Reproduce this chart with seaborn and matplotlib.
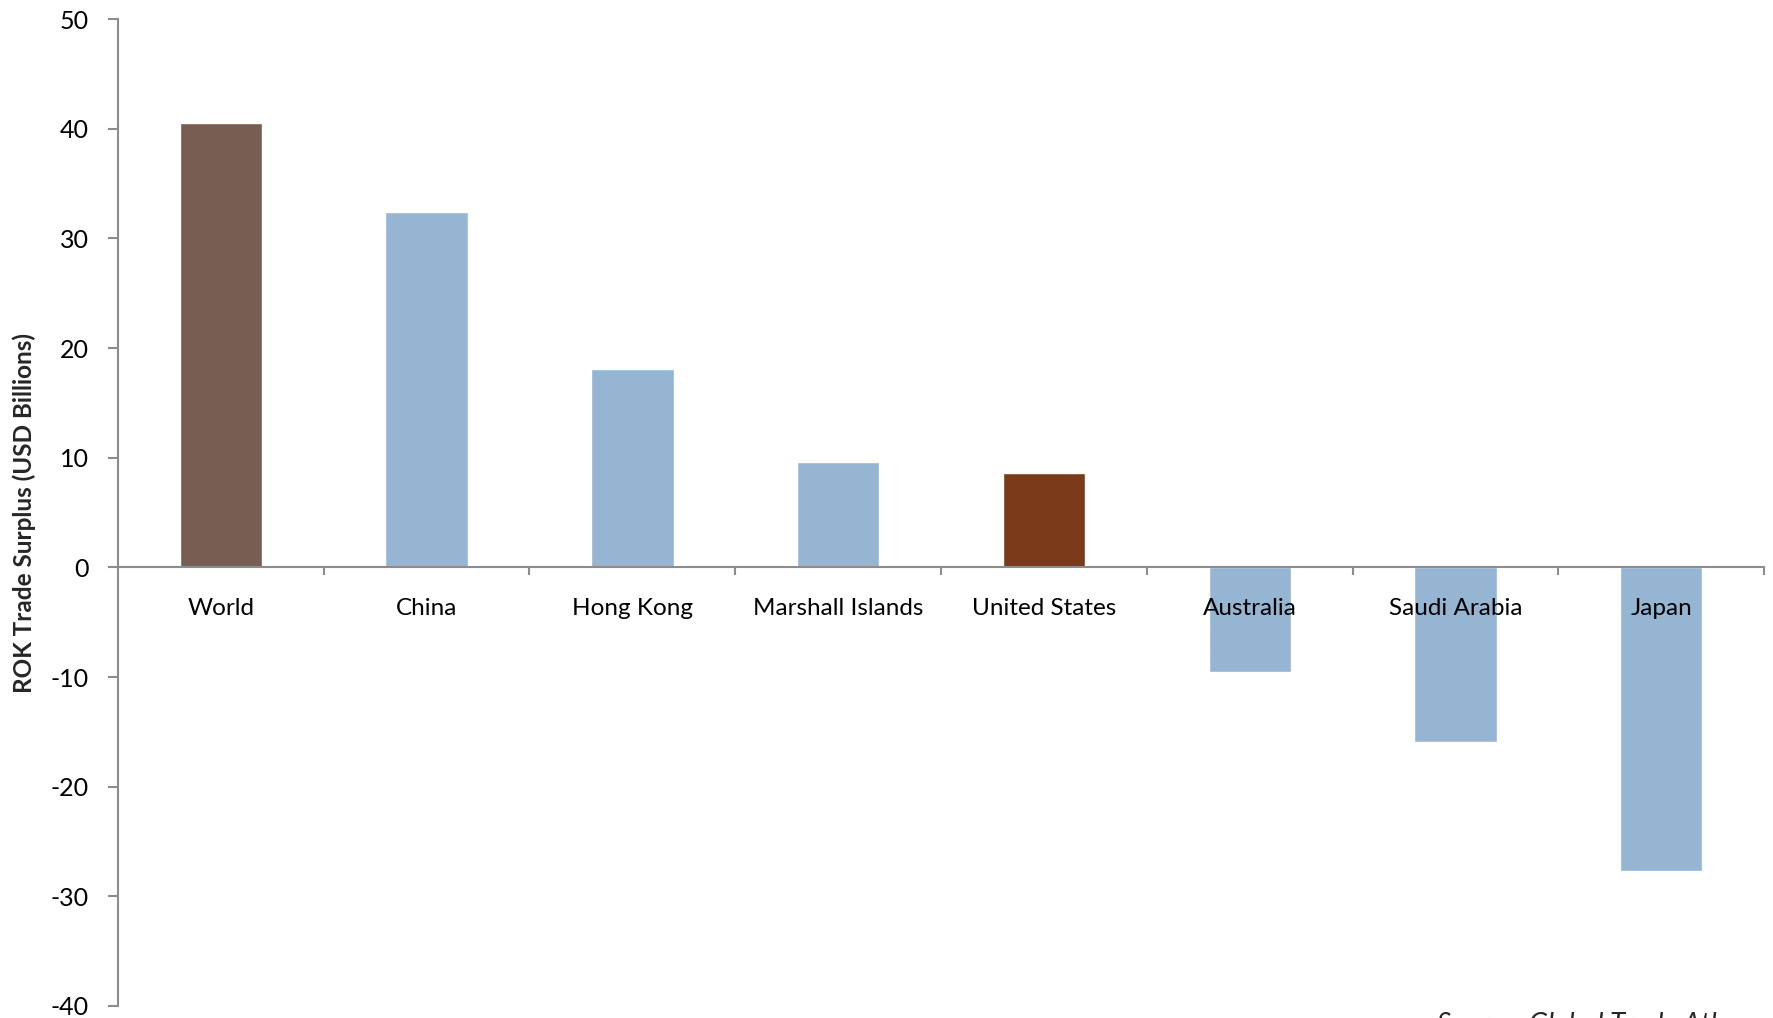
import numpy as np
import pandas as pd
import seaborn as sns
import matplotlib.pyplot as plt
from matplotlib.ticker import FixedLocator

countries = ['World', 'China', 'Hong Kong', 'Marshall Islands', 'United States',
             'Australia', 'Saudi Arabia', 'Japan']
surplus = [40.5, 32.4, 18.1, 9.6, 8.6, -9.5, -15.9, -27.7]
bar_colors = ['#785E52', '#95B5D3', '#95B5D3', '#95B5D3', '#7B3B1A',
              '#95B5D3', '#95B5D3', '#95B5D3']
y_ticks = [50, 40, 30, 20, 10, 0, -10, -20, -30, -40]

sns.set_theme(style='white')
plt.rcParams['font.family'] = ['Lato', 'DejaVu Sans']

df = pd.DataFrame({'country': countries, 'surplus': surplus})

fig = plt.figure(figsize=(17.74, 10.18), dpi=100)
ax = fig.add_axes([0.0665, 0.0118, 0.9279, 0.9695])

sns.barplot(data=df, x='country', y='surplus', hue='country',
            palette=bar_colors, legend=False, width=0.4, saturation=1,
            ax=ax, zorder=1)

# tick labels must sit on top of the negative bars
ax.set_axisbelow(False)

ax.set_xlim(-0.5, len(countries) - 0.5)
ax.set_ylim(-40, 50)
ax.set_yticks(y_ticks)
ax.set_yticklabels([str(t) for t in y_ticks], fontsize=18, color='black')

# axis styling
axis_grey = '#8C8C8C'
for side in ['top', 'right']:
    ax.spines[side].set_visible(False)
ax.spines['left'].set_color(axis_grey)
ax.spines['left'].set_linewidth(1.5)
ax.spines['bottom'].set_color(axis_grey)
ax.spines['bottom'].set_linewidth(1.5)
ax.spines['bottom'].set_position(('data', 0))
ax.spines['bottom'].set_zorder(3)

ax.tick_params(axis='y', which='major', left=True, length=7, width=1.5,
               color=axis_grey, pad=14)
ax.tick_params(axis='x', which='major', bottom=False, length=0, pad=22,
               labelsize=17.5, labelcolor='black')
ax.xaxis.set_minor_locator(FixedLocator(np.arange(0.5, len(countries), 1.0)))
ax.tick_params(axis='x', which='minor', bottom=True, length=6, width=1.5,
               color=axis_grey, direction='out')

ax.set_xlabel('')
ax.set_ylabel('ROK Trade Surplus (USD Billions)', fontsize=17.5, fontweight='bold')
ax.yaxis.set_label_coords(-0.0495, 0.5)

fig.text(0.81, 0.006, 'Source: Global Trade Atlas', fontsize=20,
         style='italic', ha='left', va='top')

fig.savefig('out.png', dpi=100)
